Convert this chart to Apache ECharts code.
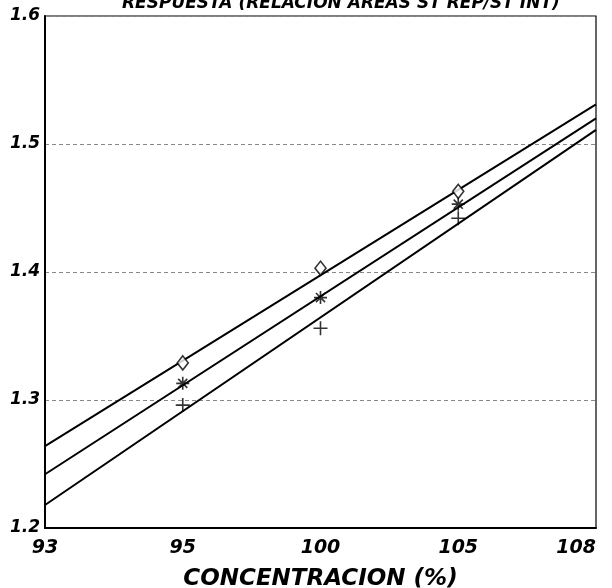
<!DOCTYPE html>
<html>
<head>
<meta charset="utf-8">
<script src="https://cdn.jsdelivr.net/npm/echarts@6/dist/echarts.min.js"></script>
<style>
  html, body { margin: 0; padding: 0; background: #fff; }
  #chart { width: 612px; height: 588px; }
</style>
</head>
<body>
<div id="chart"></div>
<script>
// Measured concentration levels (%)
const xLevels = [95, 100, 105];
// Response ratio for the three replicate sets
const ratioDiamond = [1.329, 1.403, 1.463];
const ratioStar = [1.313, 1.380, 1.453];
const ratioPlus = [1.296, 1.356, 1.442];

// Fitted lines: value at the axis ends
const fitX = [90, 110];
const fitUpper = [1.264, 1.531];
const fitMiddle = [1.242, 1.520];
const fitLower = [1.218, 1.511];

// Axis tick values and the labels printed under them
const xTickValues = [90, 95, 100, 105, 110];
const xTickLabels = ['93', '95', '100', '105', '108'];

const labelFont = {
  fontFamily: 'DejaVu Sans, Verdana, sans-serif',
  fontStyle: 'italic',
  fontWeight: 'bold',
  color: '#000'
};

const pair = (xs, ys) => xs.map((x, i) => [x, ys[i]]);

const plusPath = 'path://M0,6L12,6M6,0L6,12';
const starPath = 'path://M0,6L12,6M6,0L6,12M1.8,1.8L10.2,10.2M1.8,10.2L10.2,1.8';

const lineStyle = { color: '#000', width: 2 };

const chart = echarts.init(document.getElementById('chart'), null, { renderer: 'canvas' });
chart.setOption({
  animation: false,
  backgroundColor: '#fff',
  title: {
    text: 'RESPUESTA (RELACION AREAS ST REP/ST INT)',
    left: 117,
    top: -10,
    textStyle: Object.assign({ fontSize: 17 }, labelFont)
  },
  grid: {
    left: 45, right: 16, top: 16, bottom: 60,
    show: true,
    borderColor: '#000',
    borderWidth: 1.2,
    containLabel: false,
    outerBoundsMode: 'none'
  },
  xAxis: {
    type: 'value',
    min: 90, max: 110, interval: 5,
    name: 'CONCENTRACION (%)',
    nameLocation: 'middle',
    nameGap: 40,
    nameTextStyle: Object.assign({ fontSize: 23 }, labelFont),
    axisLine: { show: true, lineStyle: { color: '#000', width: 2 } },
    axisTick: { show: false },
    splitLine: { show: false },
    axisLabel: Object.assign({
      fontSize: 19,
      margin: 11,
      alignMaxLabel: 'right',
      formatter: v => xTickLabels[xTickValues.indexOf(v)]
    }, labelFont)
  },
  yAxis: {
    type: 'value',
    min: 1.2, max: 1.6, interval: 0.1,
    axisLine: { show: true, lineStyle: { color: '#000', width: 2 } },
    axisTick: { show: false },
    splitLine: { show: true, lineStyle: { color: '#888', width: 1, type: [4, 3] } },
    axisLabel: Object.assign({
      fontSize: 17,
      margin: 5,
      formatter: v => v.toFixed(1)
    }, labelFont)
  },
  series: [
    { type: 'line', data: pair(fitX, fitUpper), symbol: 'none', lineStyle: lineStyle, z: 2 },
    { type: 'line', data: pair(fitX, fitMiddle), symbol: 'none', lineStyle: lineStyle, z: 2 },
    { type: 'line', data: pair(fitX, fitLower), symbol: 'none', lineStyle: lineStyle, z: 2 },
    {
      type: 'scatter', data: pair(xLevels, ratioDiamond),
      symbol: 'diamond', symbolSize: [11, 14],
      itemStyle: { color: '#fff', borderColor: '#000', borderWidth: 1.6 }, z: 3
    },
    {
      type: 'scatter', data: pair(xLevels, ratioStar),
      symbol: starPath, symbolSize: 13,
      itemStyle: { color: 'none', borderColor: '#000', borderWidth: 1.6 }, z: 3
    },
    {
      type: 'scatter', data: pair(xLevels, ratioPlus),
      symbol: plusPath, symbolSize: 14,
      itemStyle: { color: 'none', borderColor: '#000', borderWidth: 1.6 }, z: 3
    }
  ]
});
</script>
</body>
</html>
